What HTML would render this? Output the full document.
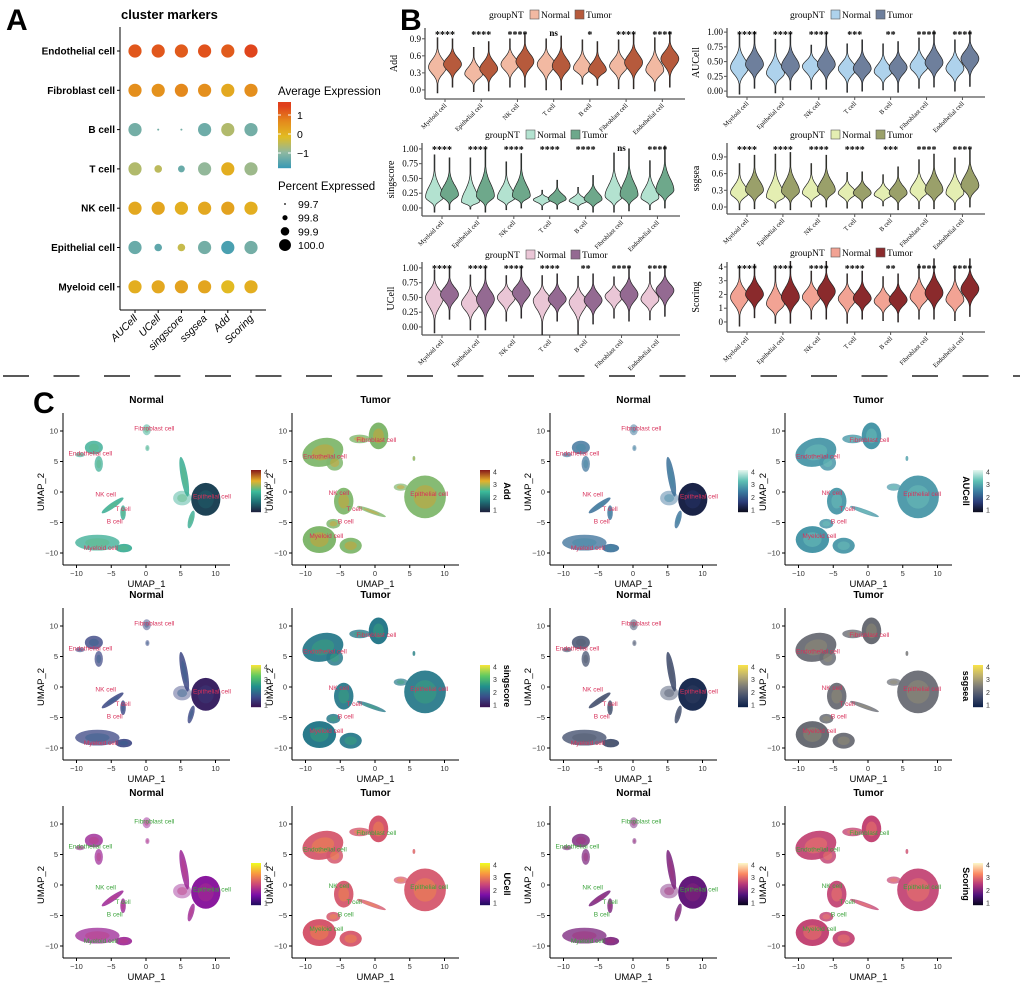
<!DOCTYPE html>
<html><head><meta charset="utf-8">
<style>
html,body{margin:0;padding:0;background:#fff;}
svg{display:block;}
</style></head>
<body>
<svg id="fig" width="1020" height="1002" viewBox="0 0 1020 1002" xmlns="http://www.w3.org/2000/svg" font-family="Liberation Sans, sans-serif">
<g id="panelA"></g>
<g id="panelB"></g>
<line x1="3" y1="376" x2="1020" y2="376" stroke="#222" stroke-width="1.6" stroke-dasharray="26 24.5"/>
<g id="panelC"></g>
</svg>
<script>
// ---------- Panel A data ----------
const aRows = ["Endothelial cell","Fibroblast cell","B cell","T cell","NK cell","Epithelial cell","Myeloid cell"];
const aCols = ["AUCell","UCell","singscore","ssgsea","Add","Scoring"];
const aExpr = [
 [1.25,1.25,1.2,1.3,1.2,1.45],
 [0.6,0.55,0.7,0.6,0.2,0.6],
 [-1.2,-1.2,-1.2,-1.25,-0.6,-1.2],
 [-0.6,-0.5,-1.3,-0.9,0.1,-0.8],
 [0.2,0.25,0.1,0.2,0.3,0.1],
 [-1.3,-1.4,-0.4,-1.2,-1.6,-1.2],
 [0.1,0.2,0.3,0.25,-0.1,0.1]
];
const aPct = [
 [100,100,100,100,100,100],
 [100,100,100,100,100,100],
 [100,99.7,99.7,100,100,100],
 [100,99.85,99.83,100,100,100],
 [100,100,100,100,100,100],
 [100,99.85,99.85,100,100,100],
 [100,100,100,100,100,100]
];
const aLegendPct = [99.7,99.8,99.9,100.0];
const aLegendTicks = [1,0,-1];

// ---------- Panel B data ----------
const bGroups = ["Myeloid cell","Epithelial cell","NK cell","T cell","B cell","Fibroblast cell","Endothelial cell"];
const addNormal = [[-0.05,0.4,0.92],[-0.03,0.28,0.75],[0.05,0.45,0.9],[0,0.45,0.9],[0.1,0.38,0.88],[0.02,0.42,0.88],[-0.02,0.35,0.92]];
const addTumor  = [[0.05,0.45,0.9],[-0.02,0.37,0.85],[0.05,0.5,1.0],[0,0.42,0.95],[0.08,0.35,0.85],[0.02,0.48,1.0],[0.05,0.55,1.02]];
const addSig = ["****","****","****","ns","*","****","****"];
const aucNormal = [[-0.05,0.4,0.97],[-0.03,0.3,0.88],[0.03,0.42,0.78],[-0.02,0.38,0.8],[0.02,0.33,0.8],[0.05,0.42,0.9],[0,0.38,0.87]];
const aucTumor  = [[0.05,0.45,1.0],[0.02,0.42,0.98],[0.03,0.45,0.98],[0,0.38,0.87],[-0.02,0.4,0.84],[0.07,0.48,1.02],[0.08,0.55,1.02]];
const aucSig = ["****","****","****","***","**","****","****"];
const singNormal = [[-0.07,0.18,0.9],[-0.02,0.1,0.85],[-0.03,0.17,0.78],[-0.03,0.14,0.3],[-0.03,0.12,0.35],[-0.07,0.2,0.93],[-0.03,0.17,0.8]];
const singTumor  = [[-0.03,0.22,0.85],[-0.07,0.2,1.0],[0,0.2,0.92],[-0.02,0.15,0.47],[-0.07,0.15,0.55],[-0.05,0.22,1.0],[0,0.3,1.05]];
const singSig = ["****","****","****","****","****","ns","****"];
const ssgNormal = [[-0.05,0.25,0.78],[-0.02,0.18,0.95],[0,0.25,0.78],[-0.02,0.25,0.62],[0.02,0.22,0.58],[-0.03,0.28,0.85],[-0.05,0.25,0.88]];
const ssgTumor  = [[-0.03,0.3,0.93],[-0.05,0.28,0.98],[0,0.3,0.93],[-0.02,0.25,0.63],[-0.05,0.25,0.72],[-0.03,0.3,0.95],[0,0.38,1.05]];
const ssgSig = ["****","****","****","****","***","****","****"];
const ucNormal = [[-0.1,0.5,0.97],[-0.05,0.4,0.88],[0.1,0.5,0.87],[-0.13,0.45,0.87],[-0.12,0.42,0.86],[0.15,0.52,0.85],[0.12,0.47,0.93]];
const ucTumor  = [[0.13,0.55,1.0],[-0.05,0.47,1.0],[0.15,0.58,1.02],[0.1,0.47,0.9],[0.05,0.45,0.9],[0.1,0.55,1.02],[0.18,0.62,1.03]];
const ucSig = ["****","****","****","****","**","****","****"];
const scNormal = [[-0.3,1.8,4.0],[-0.1,1.3,3.9],[0.2,1.8,3.7],[-0.1,1.7,3.5],[0.1,1.5,3.3],[0.2,1.8,4.2],[0.1,1.6,4.0]];
const scTumor  = [[0.3,2.0,4.2],[-0.1,1.8,4.4],[0.2,2.2,4.4],[0.2,1.7,3.7],[0,1.6,3.5],[0.2,2.1,4.6],[0.4,2.4,4.6]];
const scSig = ["****","****","****","****","**","****","****"];
const addTicks=[0,0.3,0.6,0.9], aucTicks=[0,0.25,0.5,0.75,1], singTicks=[0,0.25,0.5,0.75,1], ssgTicks=[0,0.3,0.6,0.9], ucTicks=[0,0.25,0.5,0.75,1], scTicks=[0,1,2,3,4];
const addTickLab=["0.0","0.3","0.6","0.9"], aucTickLab=["0.00","0.25","0.50","0.75","1.00"], ssgTickLab=["0.0","0.3","0.6","0.9"], scTickLab=["0","1","2","3","4"];

// ---------- Panel C data (cluster shapes in UMAP units: cx, cy, rx, ry, angle deg, density) ----------
const normalClusters = [
 [-7,-8.3,3.2,1.3,0,0.75],[-3.2,-9.2,1.2,0.7,0,0.9],[-4.8,-2.2,1.9,0.45,-35,0.85],[-3.3,-3.4,0.4,1.2,0,0.8],
 [-7.5,7.3,1.3,1.1,0,0.8],[-6.8,4.6,0.6,1.3,0,0.7],[-9.5,6.1,0.7,0.4,0,0.6],[0.1,10.2,0.6,0.9,0,0.5],[0.2,7.2,0.3,0.5,0,0.5],
 [8.6,-1.2,2.1,2.7,0,1],[5.5,2.5,0.5,3.3,-10,0.85],[6.5,-4.5,0.4,1.5,15,0.8],[5.2,-1,1.3,1.2,0,0.45]
];
const tumorClusters = [
 [-7.5,6.5,3.0,2.3,-15,0.95],[-5.8,4.8,1.2,1.3,0,0.85],[-2.2,8.7,1.5,0.7,0,0.8],[0.5,9.2,1.4,2.2,0,1],
 [-4.5,-1.5,1.4,2.2,0,0.95],[-0.5,-3.2,2.2,0.35,20,0.8],[-8,-7.8,2.4,2.2,0,1],[-3.5,-8.8,1.6,1.3,0,0.95],[-6,-5.2,1.0,0.8,0,0.85],
 [7.2,-0.8,3.0,3.5,0,0.95],[3.7,0.8,1.0,0.6,0,0.7],[5.6,5.5,0.2,0.4,0,0.8]
];
const clusterLabels = ["Fibroblast cell","Endothelial cell","NK cell","T cell","B cell","Myeloid cell","Epithelial cell"];
const normalLabelX = [1.2,-8,-5.8,-3.3,-4.5,-6.5,9.5], normalLabelY = [10.4,6.3,-0.4,-2.8,-4.8,-9.2,-0.7];
const tumorLabelX = [0.2,-7.2,-5.2,-3,-4.2,-7,7.8], tumorLabelY = [8.5,5.8,-0.2,-2.8,-4.8,-7.2,-0.3];
const umapTicks = [-10,-5,0,5,10];
const umapYTicks = [-10,-5,0,5,10];
const cbTicks = [1,2,3,4];

const NS="http://www.w3.org/2000/svg";
function el(tag,attrs,parent,text){const e=document.createElementNS(NS,tag);for(const k in attrs)e.setAttribute(k,attrs[k]);if(text!==undefined)e.textContent=text;if(parent)parent.appendChild(e);return e;}
function lerp(a,b,t){return a+(b-a)*t;}
function hex(c){return [parseInt(c.slice(1,3),16),parseInt(c.slice(3,5),16),parseInt(c.slice(5,7),16)];}
function ramp(stops,t){t=Math.max(0,Math.min(1,t));const n=stops.length-1;const i=Math.min(n-1,Math.floor(t*n));const f=t*n-i;const a=hex(stops[i]),b=hex(stops[i+1]);return "rgb("+a.map((v,k)=>Math.round(lerp(v,b[k],f))).join(",")+")";}

// ================= Panel A =================
(function(){
 const g=document.getElementById('panelA');
 const t0=el('text',{x:6,y:30,'font-size':30,'font-weight':'bold'},g,"A");
 
 const tt=el('text',{x:121,y:19,'font-size':13,'font-weight':'bold'},g,"cluster markers");
 
 const x0=120,x1=266,yTop=27,yBot=310;
 const xs=c=>135+c*23.2, ys=r=>51+r*39.3;
 const exprStops=["#3a9ab4","#8fb8a0","#e2bc22","#e48a1c","#e0401c"];
 const ecol=v=>ramp(exprStops,(v+1.75)/3.25);
 const rsz=p=>Math.max(0.6,lerp(1,6.6,(p-99.7)/0.3));
 el('line',{x1:x0,y1:yTop,x2:x0,y2:yBot,stroke:"#000",'stroke-width':1},g);
 el('line',{x1:x0,y1:yBot,x2:x1,y2:yBot,stroke:"#000",'stroke-width':1},g);
 aRows.forEach((r,i)=>{
  const y=ys(i);
  el('line',{x1:x0-3,y1:y,x2:x0,y2:y,stroke:"#000"},g);
  const t=el('text',{x:x0-5,y:y+3.5,'font-size':10,'font-weight':'bold','text-anchor':'end'},g,r);
  
  aCols.forEach((c,j)=>{
   const d=el('circle',{cx:xs(j),cy:y,r:rsz(aPct[i][j]),fill:ecol(aExpr[i][j])},g);
   
  });
 });
 aCols.forEach((c,j)=>{
  const x=xs(j);
  el('line',{x1:x,y1:yBot,x2:x,y2:yBot+3,stroke:"#000"},g);
  const t=el('text',{x:x+3,y:yBot+9,'font-size':10.5,'font-style':'italic','text-anchor':'end',transform:`rotate(-45 ${x+3} ${yBot+9})`},g,c);
  
 });
 const lt=el('text',{x:278,y:95,'font-size':11.5},g,"Average Expression");
 
 const cy0=102,cy1=168, cv=v=>134-v*19;
 for(let k=0;k<66;k++){const v=1.68-(k/66)*3.47;el('rect',{x:278,y:cy0+k,width:13,height:1.2,fill:ecol(v)},g);}
 aLegendTicks.forEach(v=>{const y=cv(v);el('line',{x1:278,y1:y,x2:281,y2:y,stroke:"#fff"},g);el('line',{x1:288,y1:y,x2:291,y2:y,stroke:"#fff"},g);
  const t=el('text',{x:297,y:y+4,'font-size':10.5},g,v<0?"\u22121":String(v));});
 const pt=el('text',{x:278,y:190,'font-size':11.5},g,"Percent Expressed");
 
 aLegendPct.forEach((p,k)=>{const y=204+k*13.7;const c=el('circle',{cx:285,cy:y,r:rsz(p)*0.9,fill:"#000"},g);
  const t=el('text',{x:298,y:y+4,'font-size':10.5},g,p.toFixed(1));});
})();

// ================= Panel B =================
(function(){
 const g=document.getElementById('panelB');
 const L=el('text',{x:400,y:30,'font-size':30,'font-weight':'bold'},g,"B");
 
 const panels=[
  {name:"Add",N:addNormal,T:addTumor,sig:addSig,ticks:addTicks,lab:addTickLab,x0:425,x1:685,top:28,bot:99,ymin:-0.16,ymax:1.09,cn:"#f2b9a2",ct:"#b65a3c",ly:15},
  {name:"AUCell",N:aucNormal,T:aucTumor,sig:aucSig,ticks:aucTicks,lab:aucTickLab,x0:727,x1:985,top:28,bot:97,ymin:-0.1,ymax:1.07,cn:"#aed2ec",ct:"#6e7f9c",ly:15},
  {name:"singscore",N:singNormal,T:singTumor,sig:singSig,ticks:singTicks,lab:aucTickLab,x0:422,x1:680,top:143,bot:216,ymin:-0.136,ymax:1.1,cn:"#b3e2d0",ct:"#6ea88b",ly:135},
  {name:"ssgsea",N:ssgNormal,T:ssgTumor,sig:ssgSig,ticks:ssgTicks,lab:ssgTickLab,x0:727,x1:985,top:143,bot:214,ymin:-0.126,ymax:1.15,cn:"#e4eeb2",ct:"#9aa06a",ly:135},
  {name:"UCell",N:ucNormal,T:ucTumor,sig:ucSig,ticks:ucTicks,lab:aucTickLab,x0:422,x1:680,top:262,bot:335,ymin:-0.136,ymax:1.1,cn:"#eac6d6",ct:"#946a92",ly:255},
  {name:"Scoring",N:scNormal,T:scTumor,sig:scSig,ticks:scTicks,lab:scTickLab,x0:727,x1:985,top:262,bot:332,ymin:-0.73,ymax:4.36,cn:"#f2a394",ct:"#8a2a2c",ly:253}
 ];
 panels.forEach(p=>{
  const pg=el('g',{'font-family':'Liberation Serif, serif'},g);
  
  const ys=v=>p.bot-(v-p.ymin)/(p.ymax-p.ymin)*(p.bot-p.top);
  const step=(p.x1-p.x0-30)/6.35;
  const gx=i=>p.x0+20+i*step;
  el('line',{x1:p.x0,y1:p.top,x2:p.x0,y2:p.bot,stroke:"#555",'stroke-width':1.3},pg);
  el('line',{x1:p.x0,y1:p.bot,x2:p.x1,y2:p.bot,stroke:"#555",'stroke-width':1.3},pg);
  p.ticks.forEach((v,k)=>{const y=ys(v);el('line',{x1:p.x0-3,y1:y,x2:p.x0,y2:y,stroke:"#555"},pg);
   const lab=p.lab?p.lab[k]:String(v);const t=el('text',{x:p.x0-4,y:y+3,'font-size':9,'text-anchor':'end'},pg,lab);});
  const yt=el('text',{x:p.x0-28,y:(p.top+p.bot)/2,'font-size':10,'text-anchor':'middle',transform:`rotate(-90 ${p.x0-28} ${(p.top+p.bot)/2})`},pg,p.name);
  
  const lx=(p.x0+p.x1)/2-66;
  const lg=el('g',{},pg);
  el('text',{x:lx,y:p.ly+3,'font-size':9.5},lg,"groupNT");
  el('rect',{x:lx+41,y:p.ly-5,width:9,height:9,fill:p.cn,stroke:"#555",'stroke-width':0.6},lg);
  el('text',{x:lx+52,y:p.ly+3,'font-size':9.5},lg,"Normal");
  el('rect',{x:lx+86,y:p.ly-5,width:9,height:9,fill:p.ct,stroke:"#555",'stroke-width':0.6},lg);
  el('text',{x:lx+97,y:p.ly+3,'font-size':9.5},lg,"Tumor");
  function violin(d,cx,col){
   const [lo,md,hi]=d;const pts=[];const n=36;const W=9;
   const sdU=(hi-md)*0.34, sdL=(md-lo)*0.34;
   for(let k=0;k<=n;k++){const v=lo+(hi-lo)*k/n;const s=v>md?sdU:sdL;const w=Math.max(0.4,W*Math.exp(-Math.pow((v-md)/s,2)*0.9));pts.push([w,ys(v)]);}
   let path="M"+cx+","+ys(lo);pts.forEach(q=>path+=" L"+(cx+q[0]).toFixed(1)+","+q[1].toFixed(1));
   for(let k=pts.length-1;k>=0;k--)path+=" L"+(cx-pts[k][0]).toFixed(1)+","+pts[k][1].toFixed(1);
   path+="Z";
   return el('path',{d:path,fill:col,stroke:"#222",'stroke-width':0.7},pg);
  }
  bGroups.forEach((grp,i)=>{
   const cx=gx(i);
   const a=violin(p.N[i],cx-7.5,p.cn);
   const b=violin(p.T[i],cx+7.5,p.ct);
   const s=el('text',{x:cx,y:p.top+(p.sig[i]=="ns"?8:10),'font-size':p.sig[i]=="ns"?9:10,'text-anchor':'middle','font-weight':'bold'},pg,p.sig[i]);
   
   el('line',{x1:cx,y1:p.bot,x2:cx,y2:p.bot+3,stroke:"#555"},pg);
   const xl=el('text',{x:cx+2,y:p.bot+7,'font-size':6.5,'text-anchor':'end',transform:`rotate(-45 ${cx+2} ${p.bot+7})`},pg,grp);
   
  });
 });
})();

// ================= Panel C =================
(function(){
 const g=document.getElementById('panelC');
 const L=el('text',{x:33,y:413,'font-size':30,'font-weight':'bold'},g,"C");
 
 const lefts=[63,292,550,785], tops=[413,608,806];
 const names=[["","Add","","AUCell"],["","singscore","","ssgsea"],["","UCell","","Scoring"]];
 const scales=[
  [["#1e1c3a","#1f6e74","#3cba9a","#e5b22a","#8a1f1a"],["#1e1c3a","#1f6e74","#3cba9a","#e5b22a","#8a1f1a"],["#0b0b1a","#2b3c78","#3b7ca0","#5ec0b4","#e0f4ec"],["#0b0b1a","#2b3c78","#3b7ca0","#5ec0b4","#e0f4ec"]],
  [["#3a1050","#3b4c8a","#21908c","#5ec962","#f2e43a"],["#3a1050","#3b4c8a","#21908c","#5ec962","#f2e43a"],["#0a1e46","#414d6b","#7c7b78","#bcaf6f","#f7e14a"],["#0a1e46","#414d6b","#7c7b78","#bcaf6f","#f7e14a"]],
  [["#1b0c5a","#7a0ea8","#cc4778","#f89540","#f0f921"],["#1b0c5a","#7a0ea8","#cc4778","#f89540","#f0f921"],["#050418","#4f127b","#b5367a","#fb8761","#fcf3c4"],["#050418","#4f127b","#b5367a","#fb8761","#fcf3c4"]]
 ];
 const tone=[[0.45,0.6],[0.22,0.42],[0.35,0.55]];
 const blobTone=[[0.12,0.45],[0.08,0.4],[0.3,0.45]];
 for(let r=0;r<3;r++)for(let c=0;c<4;c++){
  const left=lefts[c],top=tops[r],right=left+167,bot=top+152;
  const pg=el('g',{},g);
  const xs=u=>left+83+u*6.95, ys=u=>top+79-u*6.1;
  const isT=c%2==1;
  const title=el('text',{x:(left+right)/2,y:top-10,'font-size':10,'font-weight':'bold','text-anchor':'middle'},pg,isT?"Tumor":"Normal");
  
  const sc=scales[r][c];
  const cls=isT?tumorClusters:normalClusters;
  cls.forEach((k,ix)=>{
   const isBlob=(!isT&&ix==9);
   const tv=isBlob?blobTone[r][isT?1:0]:tone[r][isT?1:0];
   const e=el('ellipse',{cx:xs(k[0]),cy:ys(k[1]),rx:k[2]*6.95,ry:k[3]*6.1,fill:ramp(sc,tv),opacity:k[5],transform:`rotate(${k[4]} ${xs(k[0])} ${ys(k[1])})`},pg);
   
   const e2=el('ellipse',{cx:xs(k[0]),cy:ys(k[1]),rx:k[2]*6.95*0.55,ry:k[3]*6.1*0.55,fill:ramp(sc,Math.min(1,tv+(isT?0.18:0.1))),opacity:0.45,transform:`rotate(${k[4]} ${xs(k[0])} ${ys(k[1])})`},pg);
   
  });
  const lc=r==2?"#3aa33a":"#d8305a";
  const LX=isT?tumorLabelX:normalLabelX, LY=isT?tumorLabelY:normalLabelY;
  clusterLabels.forEach((lab,i)=>{const t=el('text',{x:xs(LX[i]),y:ys(LY[i])+2,'font-size':6.5,'text-anchor':'middle',fill:lc},pg,lab);});
  el('line',{x1:left,y1:top,x2:left,y2:bot,stroke:"#000",'stroke-width':1},pg);
  el('line',{x1:left,y1:bot,x2:right,y2:bot,stroke:"#000",'stroke-width':1},pg);
  umapTicks.forEach(u=>{const x=xs(u);el('line',{x1:x,y1:bot,x2:x,y2:bot+3,stroke:"#000"},pg);
   const t=el('text',{x:x,y:bot+11,'font-size':7.5,'text-anchor':'middle',fill:"#333"},pg,u<0?"\u2212"+(-u):String(u));});
  umapYTicks.forEach(u=>{const y=ys(u);el('line',{x1:left-3,y1:y,x2:left,y2:y,stroke:"#000"},pg);
   const t=el('text',{x:left-5,y:y+2.5,'font-size':7.5,'text-anchor':'end',fill:"#333"},pg,u<0?"\u2212"+(-u):String(u));});
  const xt=el('text',{x:(left+right)/2,y:bot+22,'font-size':9.5,'text-anchor':'middle'},pg,"UMAP_1");
  
  const yx=left-19,yy=top+79;
  const yt=el('text',{x:yx,y:yy,'font-size':9.5,'text-anchor':'middle',transform:`rotate(-90 ${yx} ${yy})`},pg,"UMAP_2");
  
  const cbx=left+188, cby0=top+57, cby1=top+99;
  for(let k=0;k<42;k++){el('rect',{x:cbx,y:cby0+k,width:10,height:1.2,fill:ramp(sc,1-k/42)},pg);}
  cbTicks.forEach(v=>{const y=cby1-(v-0.85)/3.3*(cby1-cby0);
   const t=el('text',{x:cbx+13,y:y+2.5,'font-size':7,fill:"#333"},pg,String(v));});
  if(names[r][c]){
   const lx=c==1?cbx+24:cbx-10;
   const nt=el('text',{x:lx,y:(cby0+cby1)/2,'font-size':9,'font-weight':'bold','text-anchor':'middle',transform:`rotate(90 ${lx} ${(cby0+cby1)/2})`},pg,names[r][c]);
   
  }
 }
})();
</script>
</body></html>
